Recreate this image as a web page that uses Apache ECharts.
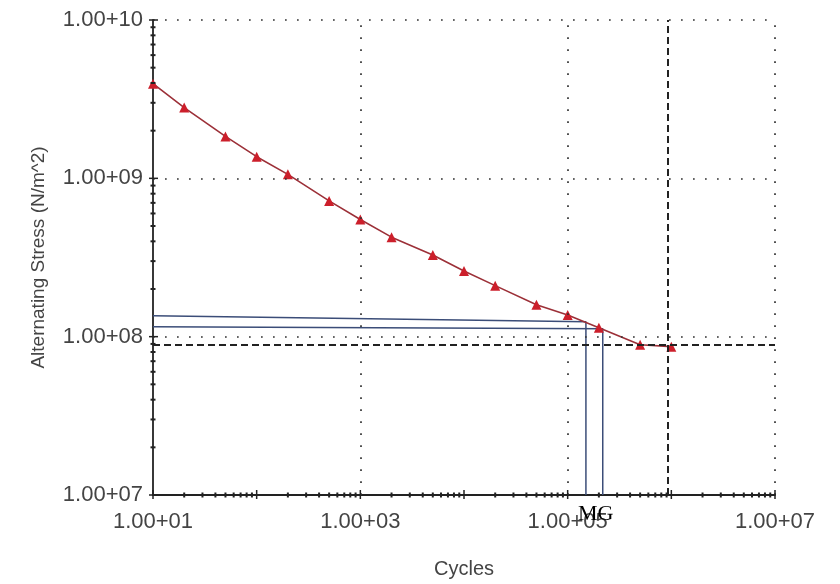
<!DOCTYPE html>
<html>
<head>
<meta charset="utf-8">
<script src="https://cdn.jsdelivr.net/npm/echarts@6/dist/echarts.min.js"></script>
<style>
html,body{margin:0;padding:0;background:#fff;}
#c{width:840px;height:584px;}
</style>
</head>
<body>
<div id="c"></div>
<script>
// ---- data ----
const cycles = [10, 20, 50, 100, 200, 500, 1000, 2000, 5000, 1e4, 2e4, 5e4, 1e5, 2e5, 5e5, 1e6];
const stress = [3.96e9, 2.8e9, 1.84e9, 1.37e9, 1.06e9, 7.2e8, 5.5e8, 4.25e8, 3.28e8, 2.6e8, 2.1e8, 1.59e8, 1.37e8, 1.14e8, 8.9e7, 8.65e7];

// annotation lines (MG read-off)
const mgLineA = [[10, 1.355e8], [1.5e5, 1.24e8], [1.5e5, 1e7]];
const mgLineB = [[10, 1.156e8], [2.18e5, 1.12e8], [2.18e5, 1e7]];

// endurance limit (dashed cross-hair)
const enduranceStress = 8.9e7;
const enduranceCycles = 9.2e5;

// axis ranges / grid decades
const xMin = 10, xMax = 1e7;
const yMin = 1e7, yMax = 1e10;
const xGridVals = [1e3, 1e5, 1e7];
const yGridVals = [1e8, 1e9, 1e10];
const xDecades = [1, 2, 3, 4, 5, 6];
const yDecades = [7, 8, 9];
const mantissas = [1, 2, 3, 4, 5, 6, 7, 8, 9];

const xTicks = [];
xDecades.forEach(d => mantissas.forEach(m => xTicks.push([m * Math.pow(10, d), yMin, m === 1 ? 1 : 0])));
xTicks.push([xMax, yMin, 1]);
const yTicks = [];
yDecades.forEach(d => mantissas.forEach(m => yTicks.push([xMin, m * Math.pow(10, d), m === 1 ? 1 : 0])));
yTicks.push([xMin, yMax, 1]);

function fmt(v, skipEven) {
  const e = Math.round(Math.log10(v));
  if (skipEven && e % 2 === 0) return '';
  return '1.00+' + String(e).padStart(2, '0');
}

const chart = echarts.init(document.getElementById('c'));
const dotted = { color: '#333', width: 1.7, type: [1.7, 10.3] };
const dashed = { color: '#222', width: 2, type: [7, 4] };

function tickRenderer(isX) {
  return function (params, api) {
    const p = api.coord([api.value(0), api.value(1)]);
    const major = api.value(2) === 1;
    const len = major ? 5 : 2.5;
    const shape = isX
      ? { x1: p[0], y1: p[1] - len, x2: p[0], y2: p[1] + (major ? 4 : 2.5) }
      : { x1: p[0] - (major ? 4 : 2.5), y1: p[1], x2: p[0] + len, y2: p[1] };
    return { type: 'line', shape: shape, style: { stroke: '#222', lineWidth: major ? 1.5 : 2 } };
  };
}

chart.setOption({
  animation: false,
  backgroundColor: '#fff',
  grid: { left: 153, right: 65, top: 20, bottom: 87, containLabel: false },
  xAxis: {
    type: 'log', logBase: 10, min: xMin, max: xMax,
    name: 'Cycles', nameLocation: 'middle', nameGap: 64,
    nameTextStyle: { fontFamily: 'Liberation Sans', fontSize: 20, color: '#444' },
    axisLine: { show: true, lineStyle: { color: '#222', width: 1.8 } },
    axisTick: { show: false },
    splitLine: { show: false },
    minorTick: { show: false },
    axisLabel: {
      margin: 16, fontFamily: 'Liberation Sans', fontSize: 22, color: '#444',
      formatter: v => fmt(v, true), showMinLabel: true, showMaxLabel: true
    }
  },
  yAxis: {
    type: 'log', logBase: 10, min: yMin, max: yMax,
    name: 'Alternating Stress (N/m^2)', nameLocation: 'middle', nameGap: 105,
    nameTextStyle: { fontFamily: 'Liberation Sans', fontSize: 19, color: '#444' },
    axisLine: { show: true, lineStyle: { color: '#222', width: 1.8 } },
    axisTick: { show: false },
    splitLine: { show: false },
    minorTick: { show: false },
    axisLabel: {
      margin: 10, fontFamily: 'Liberation Sans', fontSize: 22, color: '#444',
      formatter: v => fmt(v, false), showMinLabel: true, showMaxLabel: true
    }
  },
  series: [
    {
      type: 'line', data: [], silent: true, z: 1,
      markLine: {
        silent: true, symbol: 'none', label: { show: false }, animation: false,
        lineStyle: dotted,
        data: xGridVals.map(v => ({ xAxis: v })).concat(yGridVals.map(v => ({ yAxis: v })))
      }
    },
    {
      type: 'line', data: [], silent: true, z: 2,
      markLine: {
        silent: true, symbol: 'none', label: { show: false }, animation: false,
        lineStyle: dashed,
        data: [{ xAxis: enduranceCycles }, { yAxis: enduranceStress }]
      }
    },
    {
      type: 'line', data: mgLineA, symbol: 'none', z: 3, silent: true,
      lineStyle: { color: '#3b4d78', width: 1.5 }
    },
    {
      type: 'line', data: mgLineB, symbol: 'none', z: 3, silent: true,
      lineStyle: { color: '#3b4d78', width: 1.5 }
    },
    {
      type: 'line', z: 4,
      data: cycles.map((c, i) => [c, stress[i]]),
      symbol: 'triangle', symbolSize: 10,
      itemStyle: { color: '#cc1f2b' },
      lineStyle: { color: '#9c3038', width: 1.6 }
    },
    {
      type: 'custom', data: xTicks, renderItem: tickRenderer(true), clip: false, silent: true, z: 5
    },
    {
      type: 'custom', data: yTicks, renderItem: tickRenderer(false), clip: false, silent: true, z: 5
    }
  ],
  graphic: [
    {
      type: 'text', left: 578, top: 503, z: 10,
      style: { text: 'MG', font: '22px "Liberation Serif", serif', fill: '#000' }
    }
  ]
});
</script>
</body>
</html>
